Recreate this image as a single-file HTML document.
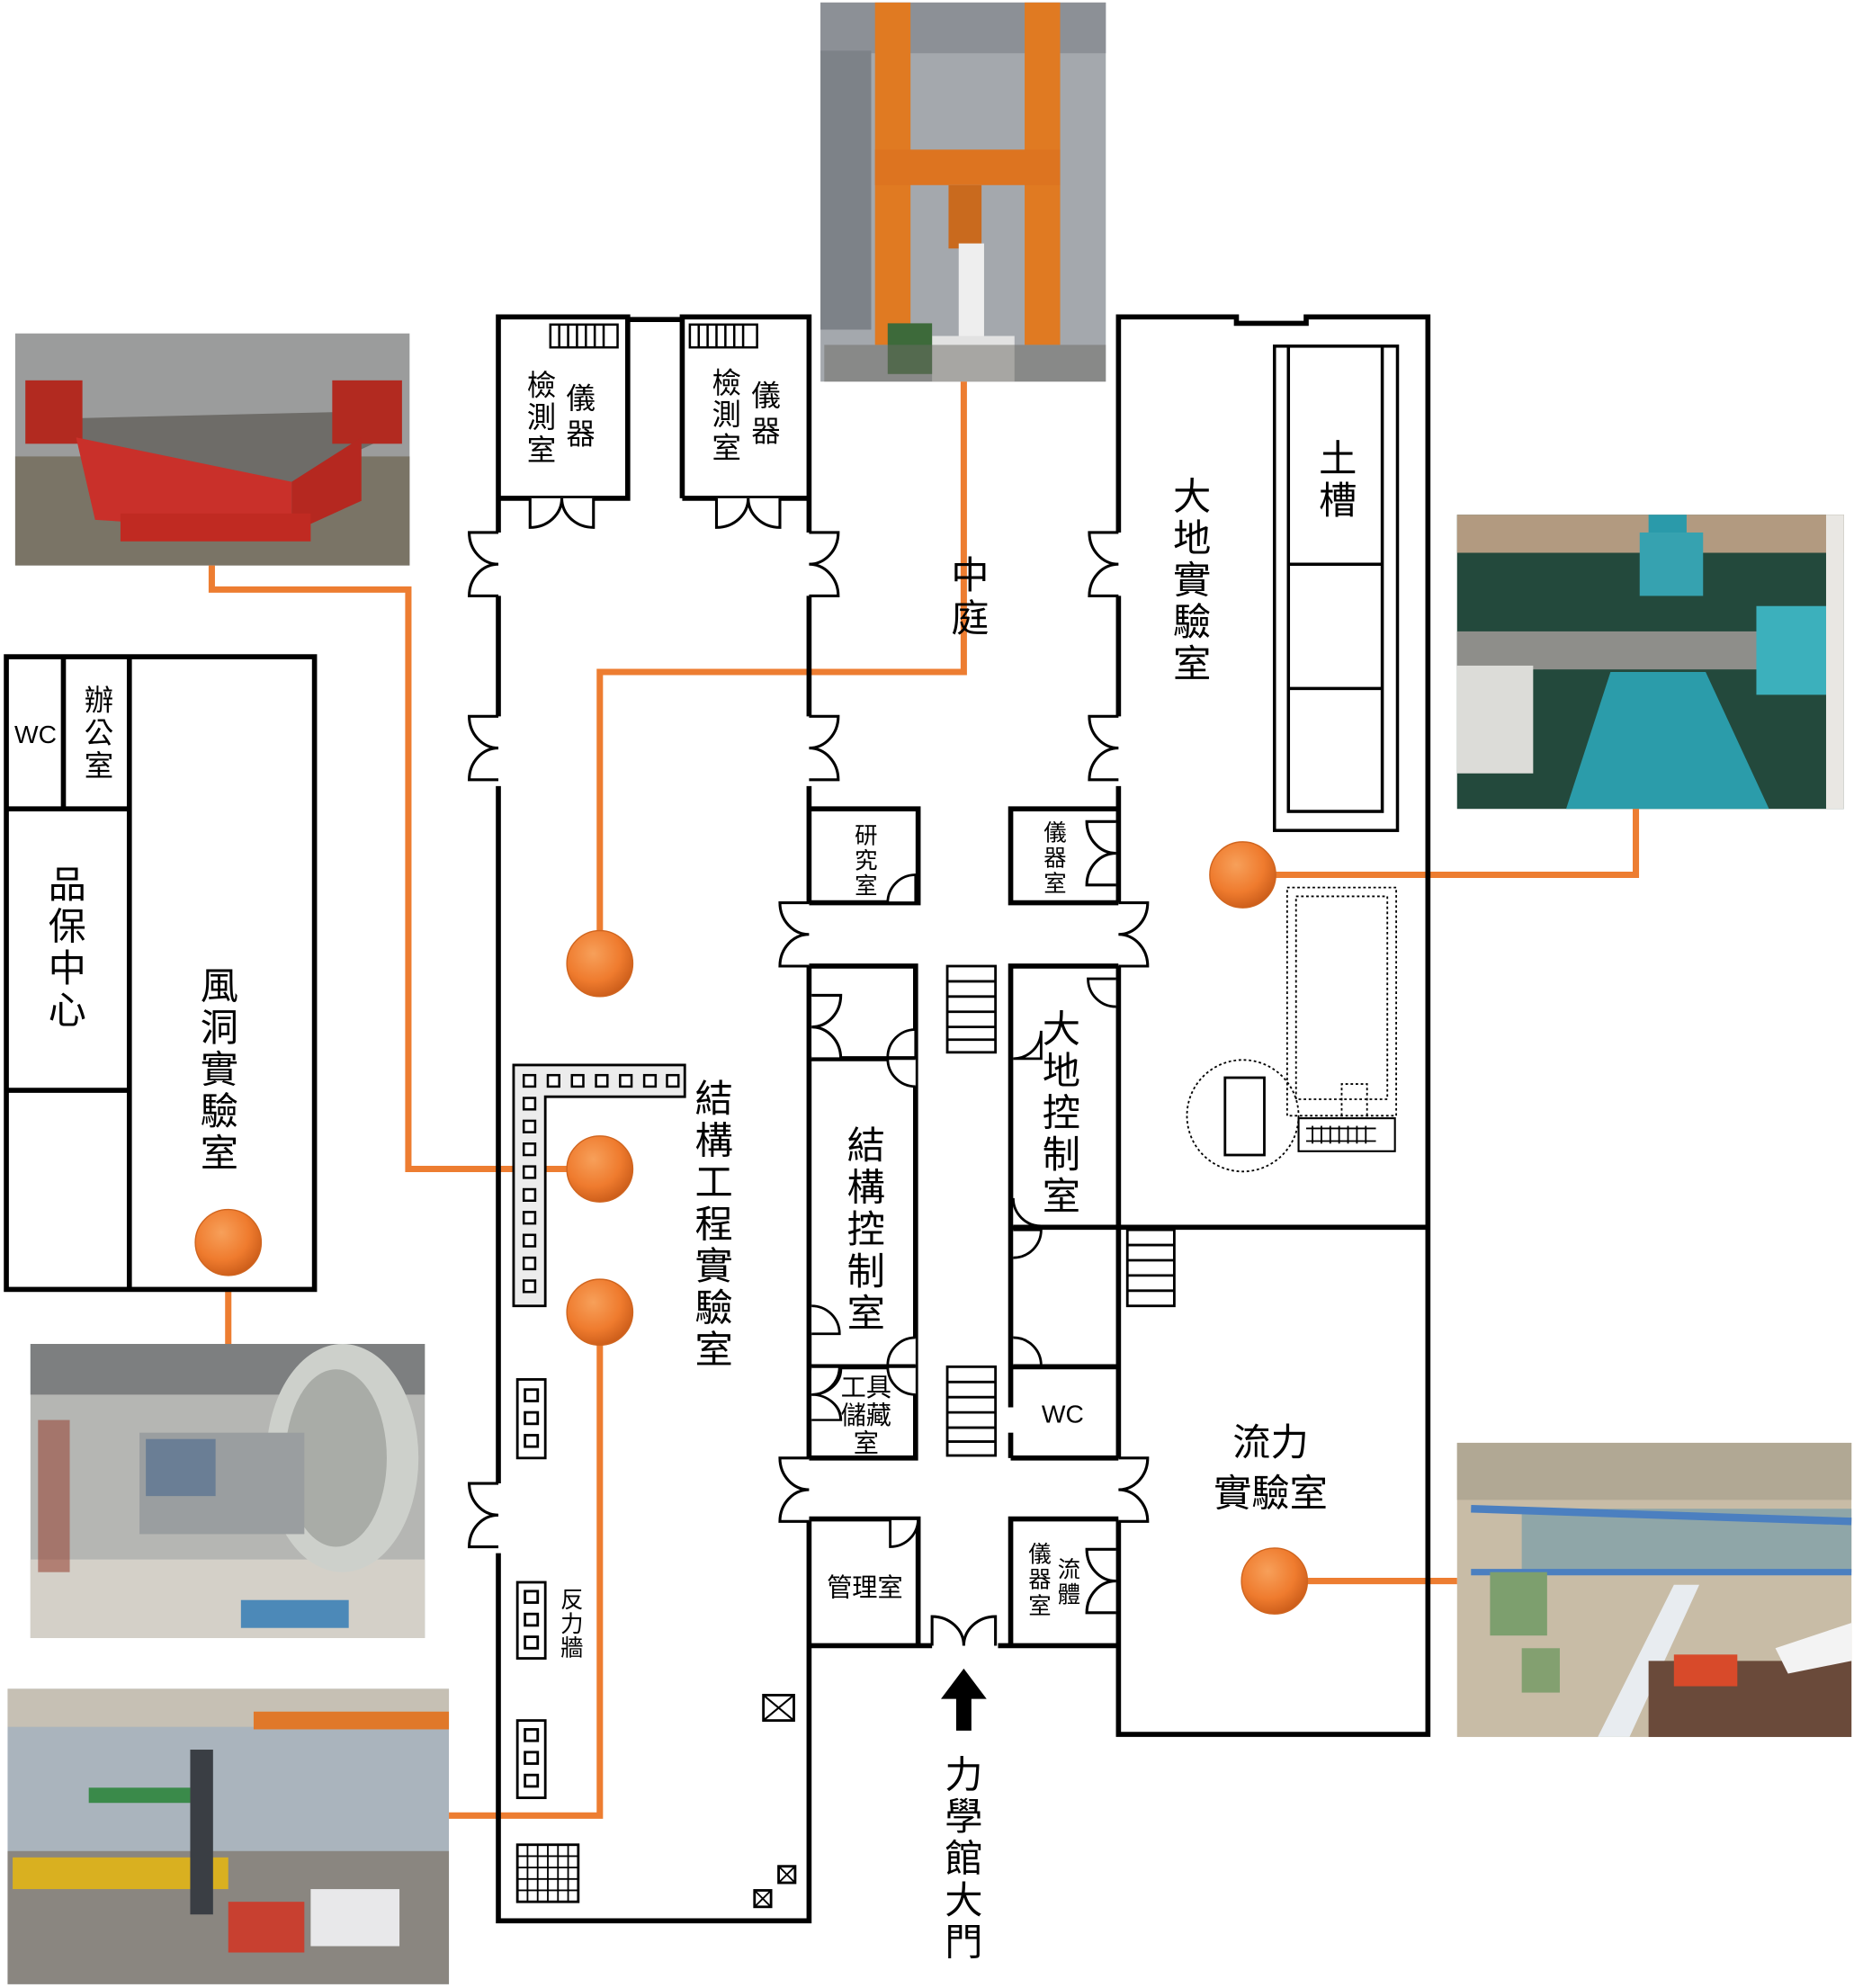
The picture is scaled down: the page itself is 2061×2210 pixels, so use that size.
<!DOCTYPE html>
<html><head><meta charset="utf-8"><style>
html,body{margin:0;padding:0;background:#fff;}
svg{display:block;}
text{font-family:"Liberation Sans","Noto Sans CJK TC",sans-serif;fill:#000;text-anchor:middle;}
</style></head><body>
<svg width="2061" height="2210" viewBox="0 0 1462 1568" preserveAspectRatio="none" xmlns="http://www.w3.org/2000/svg">
<defs>
<radialGradient id="dot" cx="40%" cy="35%" r="70%"><stop offset="0" stop-color="#f7a05a"/><stop offset="0.6" stop-color="#ef7b2e"/><stop offset="1" stop-color="#c85a18"/></radialGradient>
<g id="dd"><path d="M0,0 h-23 a23,25 0 0 0 23,25 M0,50 h-23 a23,25 0 0 1 23,-25" fill="#fff" stroke="#000" stroke-width="2.2"/></g>
</defs>

<!-- PHOTOS -->
<g>
<rect x="647" y="2" width="225" height="299" fill="#a4a8ad"/>
<rect x="647" y="2" width="225" height="40" fill="#8c9096"/>
<rect x="647" y="40" width="40" height="220" fill="#7d8288"/>
<rect x="690" y="2" width="28" height="270" fill="#e07a22"/>
<rect x="808" y="2" width="28" height="270" fill="#e07a22"/>
<rect x="690" y="118" width="146" height="28" fill="#dd7420"/>
<rect x="748" y="146" width="26" height="50" fill="#c96a1e"/>
<rect x="756" y="192" width="20" height="80" fill="#eeeeee"/>
<rect x="735" y="265" width="65" height="36" fill="#e2e2e2"/>
<rect x="700" y="255" width="35" height="40" fill="#3d6a3a"/>
<rect x="650" y="272" width="222" height="29" fill="#6b6a64" opacity="0.5"/>
</g>
<g>
<rect x="12" y="263" width="311" height="183" fill="#9b9c9c"/>
<rect x="12" y="360" width="311" height="86" fill="#7a7466"/>
<polygon points="55,330 265,325 305,345 230,380 75,378" fill="#6e6c68"/>
<rect x="20" y="300" width="45" height="50" fill="#b22a20"/>
<rect x="262" y="300" width="55" height="50" fill="#b22a20"/>
<polygon points="60,345 230,380 230,420 75,410" fill="#c9302a"/>
<polygon points="230,380 285,345 285,395 230,420" fill="#b52820"/>
<rect x="95" y="405" width="150" height="22" fill="#c02a22"/>
</g>
<g>
<rect x="1149" y="406" width="305" height="232" fill="#23493c"/>
<rect x="1149" y="406" width="305" height="30" fill="#b29a80"/>
<rect x="1300" y="406" width="30" height="50" fill="#2a9aaa"/>
<rect x="1293" y="420" width="50" height="50" fill="#36a2b0"/>
<rect x="1149" y="498" width="240" height="30" fill="#8e8e8a"/>
<rect x="1385" y="478" width="55" height="70" fill="#3cb0bc"/>
<polygon points="1270,530 1345,530 1395,638 1235,638" fill="#2b9caa"/>
<rect x="1149" y="525" width="60" height="85" fill="#dcdcd8"/>
<rect x="1440" y="406" width="14" height="232" fill="#e9e7e3"/>
</g>
<g>
<rect x="24" y="1060" width="311" height="232" fill="#b5b6b3"/>
<rect x="24" y="1060" width="311" height="40" fill="#7d7f80"/>
<rect x="24" y="1230" width="311" height="62" fill="#d4d0c8"/>
<ellipse cx="270" cy="1150" rx="60" ry="90" fill="#cdd0cb"/>
<ellipse cx="265" cy="1150" rx="40" ry="70" fill="#a9aca7"/>
<rect x="110" y="1130" width="130" height="80" fill="#9a9ea0"/>
<rect x="115" y="1135" width="55" height="45" fill="#6a7e95"/>
<rect x="190" y="1262" width="85" height="22" fill="#4c89b8"/>
<rect x="30" y="1120" width="25" height="120" fill="#9a4a3a" opacity="0.6"/>
</g>
<g>
<rect x="6" y="1332" width="348" height="233" fill="#aab4bd"/>
<rect x="6" y="1332" width="348" height="30" fill="#c6c0b4"/>
<rect x="200" y="1350" width="154" height="14" fill="#e0782a"/>
<rect x="6" y="1460" width="348" height="105" fill="#8a8680"/>
<rect x="10" y="1465" width="170" height="25" fill="#d9b020"/>
<rect x="70" y="1410" width="80" height="12" fill="#3a8a4a"/>
<rect x="150" y="1380" width="18" height="130" fill="#3a3e44"/>
<rect x="180" y="1500" width="60" height="40" fill="#c84030"/>
<rect x="245" y="1490" width="70" height="45" fill="#e8e8ea"/>
</g>
<g>
<rect x="1149" y="1138" width="311" height="232" fill="#c8bca6"/>
<rect x="1149" y="1138" width="311" height="45" fill="#b1a894"/>
<rect x="1200" y="1190" width="260" height="50" fill="#8fa6a8"/>
<line x1="1160" y1="1190" x2="1460" y2="1200" stroke="#4b7fc0" stroke-width="6"/>
<line x1="1160" y1="1240" x2="1460" y2="1240" stroke="#4b7fc0" stroke-width="5"/>
<rect x="1175" y="1240" width="45" height="50" fill="#7d9f6e"/>
<rect x="1200" y="1300" width="30" height="35" fill="#83a070"/>
<polygon points="1260,1370 1320,1250 1340,1250 1285,1370" fill="#e8ecf0"/>
<rect x="1300" y="1310" width="160" height="60" fill="#6a4a3a"/>
<rect x="1320" y="1305" width="50" height="25" fill="#d84a2a"/>
<polygon points="1400,1300 1460,1280 1460,1310 1410,1320" fill="#f3f3f3"/>
</g>

<!-- ORANGE CONNECTORS -->
<g fill="none" stroke="#ed7d31" stroke-width="5">
<polyline points="167,446 167,465 322,465 322,922 473,922"/>
<polyline points="473,760 473,530 760,530 760,301"/>
<polyline points="980,690 1290,690 1290,638"/>
<polyline points="180,980 180,1060"/>
<polyline points="473,1035 473,1432 354,1432"/>
<polyline points="1005,1247 1149,1247"/>
</g>

<!-- WALLS -->
<g fill="none" stroke="#000" stroke-width="4">
<rect x="5" y="518" width="243" height="499" fill="#fff"/>
<line x1="102" y1="518" x2="102" y2="1017"/>
<line x1="50" y1="518" x2="50" y2="638"/>
<line x1="5" y1="638" x2="102" y2="638"/>
<line x1="5" y1="860" x2="102" y2="860"/>
<polyline points="393,420 393,250 495,250 495,393 395,393"/>
<polyline points="538,393 538,250 638,250 638,420"/>
<line x1="538" y1="393" x2="638" y2="393"/>
<line x1="495" y1="252" x2="538" y2="252"/>
<line x1="393" y1="470" x2="393" y2="565"/>
<line x1="393" y1="620" x2="393" y2="1170"/>
<polyline points="393,1225 393,1515 638,1515 638,1298"/>
<line x1="638" y1="470" x2="638" y2="565"/>
<line x1="638" y1="620" x2="638" y2="712"/>
<line x1="638" y1="762" x2="638" y2="1150"/>
<line x1="638" y1="1198" x2="638" y2="1298"/>
<polyline points="638,638 724,638 724,712 638,712"/>
<polyline points="638,762 722,762 722,1150 638,1150"/>
<line x1="638" y1="835" x2="722" y2="835"/>
<line x1="638" y1="1078" x2="722" y2="1078"/>
<polyline points="638,1198 724,1198 724,1298"/>
<polyline points="638,1298 735,1298"/>
<polyline points="787,1298 882,1298"/>
<polyline points="882,638 797,638 797,712 882,712"/>
<polyline points="882,762 797,762 797,1110"/>
<line x1="797" y1="1130" x2="797" y2="1150"/>
<line x1="797" y1="968" x2="882" y2="968"/>
<line x1="797" y1="1078" x2="882" y2="1078"/>
<line x1="797" y1="1150" x2="882" y2="1150"/>
<polyline points="882,1198 797,1198 797,1298"/>
<polyline points="882,420 882,250 975,250 975,255 1030,255 1030,250 1126,250 1126,1368 882,1368 882,1198"/>
<line x1="882" y1="470" x2="882" y2="565"/>
<line x1="882" y1="620" x2="882" y2="712"/>
<line x1="882" y1="762" x2="882" y2="1150"/>
<line x1="882" y1="968" x2="1126" y2="968"/>
</g>
<g fill="none" stroke="#000" stroke-width="2.5">
<rect x="1005" y="273" width="97" height="382"/>
<rect x="1016" y="273" width="74" height="367"/>
<line x1="1016" y1="445" x2="1090" y2="445"/>
<line x1="1016" y1="543" x2="1090" y2="543"/>
<rect x="966" y="850" width="31" height="61" stroke-width="2"/>
</g>
<g fill="none" stroke="#000" stroke-width="1.3" stroke-dasharray="2,2">
<rect x="1015" y="700" width="86" height="180"/>
<rect x="1022" y="707" width="72" height="160"/>
<circle cx="980" cy="880" r="44"/>
<polyline points="1058,880 1058,855 1078,855 1078,880"/>
</g>
<rect x="1024" y="882" width="76" height="26" fill="none" stroke="#000" stroke-width="1.5"/>
<g stroke="#000" stroke-width="1.3"><line x1="1030" y1="890" x2="1085" y2="890"/><line x1="1030" y1="900" x2="1085" y2="900"/>
<line x1="1035" y1="888" x2="1035" y2="902"/><line x1="1042" y1="888" x2="1042" y2="902"/><line x1="1049" y1="888" x2="1049" y2="902"/><line x1="1056" y1="888" x2="1056" y2="902"/><line x1="1063" y1="888" x2="1063" y2="902"/><line x1="1070" y1="888" x2="1070" y2="902"/><line x1="1077" y1="888" x2="1077" y2="902"/></g>

<g fill="none" stroke="#000" stroke-width="1.8">
<rect x="434" y="256" width="53" height="18"/><rect x="544" y="256" width="53" height="18"/>
<path d="M441,256v18M448,256v18M455,256v18M462,256v18M469,256v18M476,256v18M551,256v18M558,256v18M565,256v18M572,256v18M579,256v18M586,256v18"/>
</g>

<g fill="#fff" stroke="#000" stroke-width="2">
<rect x="747" y="762" width="38" height="68"/>
<path d="M747,774h38M747,786h38M747,798h38M747,810h38M747,820h38"/>
<rect x="747" y="1078" width="38" height="70"/>
<path d="M747,1090h38M747,1102h38M747,1114h38M747,1126h38M747,1137h38"/>
<rect x="889" y="970" width="37" height="60"/>
<path d="M889,982h37M889,994h37M889,1006h37M889,1018h37"/>
</g>

<g stroke="#000" stroke-width="2">
<path d="M405,840 H540 V865 H430 V1030 H405 Z" fill="#ececec"/>
<g fill="#fff" stroke-width="1.8">
<rect x="413" y="848" width="9" height="9"/><rect x="432" y="848" width="9" height="9"/><rect x="451" y="848" width="9" height="9"/><rect x="470" y="848" width="9" height="9"/><rect x="489" y="848" width="9" height="9"/><rect x="508" y="848" width="9" height="9"/><rect x="526" y="848" width="9" height="9"/>
<rect x="413" y="866" width="9" height="9"/><rect x="413" y="884" width="9" height="9"/><rect x="413" y="902" width="9" height="9"/><rect x="413" y="920" width="9" height="9"/><rect x="413" y="938" width="9" height="9"/><rect x="413" y="956" width="9" height="9"/><rect x="413" y="974" width="9" height="9"/><rect x="413" y="992" width="9" height="9"/><rect x="413" y="1010" width="9" height="9"/>
</g>
<g fill="#fff">
<rect x="408" y="1088" width="22" height="62"/><rect x="414" y="1096" width="10" height="9"/><rect x="414" y="1114" width="10" height="9"/><rect x="414" y="1132" width="10" height="9"/>
<rect x="408" y="1248" width="22" height="60"/><rect x="414" y="1255" width="10" height="9"/><rect x="414" y="1273" width="10" height="9"/><rect x="414" y="1291" width="10" height="9"/>
<rect x="408" y="1357" width="22" height="61"/><rect x="414" y="1364" width="10" height="9"/><rect x="414" y="1382" width="10" height="9"/><rect x="414" y="1400" width="10" height="9"/>
<rect x="408" y="1455" width="48" height="45"/>
</g>
<path d="M408,1464h48M408,1473h48M408,1482h48M408,1491h48M416,1455v45M424,1455v45M432,1455v45M440,1455v45M448,1455v45" stroke-width="1.3" fill="none"/>
<rect x="602" y="1337" width="24" height="20" fill="#fff"/><path d="M602,1337L626,1357M626,1337L602,1357" fill="none" stroke-width="1.5"/>
<rect x="614" y="1472" width="13" height="13" fill="#fff"/><path d="M614,1472l13,13M627,1472l-13,13" fill="none" stroke-width="1.3"/>
<rect x="595" y="1491" width="13" height="13" fill="#fff"/><path d="M595,1491l13,13M608,1491l-13,13" fill="none" stroke-width="1.3"/>
</g>

<!-- DOORS -->
<use href="#dd" transform="translate(393,420)"/>
<use href="#dd" transform="translate(393,565)"/>
<use href="#dd" transform="translate(393,1170)"/>
<use href="#dd" transform="translate(638,420) scale(-1,1)"/>
<use href="#dd" transform="translate(638,565) scale(-1,1)"/>
<use href="#dd" transform="translate(638,712)"/>
<use href="#dd" transform="translate(638,1150)"/>
<use href="#dd" transform="translate(882,420)"/>
<use href="#dd" transform="translate(882,565)"/>
<use href="#dd" transform="translate(882,712) scale(-1,1)"/>
<use href="#dd" transform="translate(882,1150) scale(-1,1)"/>
<use href="#dd" transform="translate(418,393) rotate(-90)"/>
<use href="#dd" transform="translate(565,393) rotate(-90)"/>
<use href="#dd" transform="translate(735,1298) rotate(90) scale(1,-1)"/>
<use href="#dd" transform="translate(880,648)"/>
<use href="#dd" transform="translate(880,1222)"/>
<use href="#dd" transform="translate(640,785) scale(-1,1)"/>
<use href="#dd" transform="translate(640,1080) scale(-1,1) scale(1,0.8)"/>
<g fill="#fff" stroke="#000" stroke-width="2">
<path d="M722,690 a22,22 0 0 0 -22,22 h22z"/>
<path d="M722,812 a22,22 0 0 0 -22,22 h22z"/>
<path d="M722,835 h-22 a22,22 0 0 0 22,22"/>
<path d="M640,1030 a22,22 0 0 1 22,22 h-22"/>
<path d="M640,1078 h22 a22,22 0 0 1 -22,22"/>
<path d="M722,1055 a22,22 0 0 0 -22,22 h22"/>
<path d="M722,1078 h-22 a22,22 0 0 0 22,22"/>
<path d="M724,1198 h-22 v22 a22,22 0 0 0 22,-22"/>
<path d="M880,772 h-22 a22,22 0 0 0 22,22"/>
<path d="M799,835 a22,22 0 0 0 22,-22 v22 z"/>
<path d="M799,945 a22,22 0 0 0 22,22 h-22"/>
<path d="M799,970 h22 a22,22 0 0 1 -22,22"/>
<path d="M799,1055 a22,22 0 0 1 22,22 h-22"/>
</g>

<g fill="url(#dot)" stroke="#d0651f" stroke-width="1">
<circle cx="473" cy="760" r="26"/>
<circle cx="473" cy="922" r="26"/>
<circle cx="473" cy="1035" r="26"/>
<circle cx="180" cy="980" r="26"/>
<circle cx="980" cy="690" r="26"/>
<circle cx="1005" cy="1247" r="26"/>
</g>

<path d="M760,1316 L778,1340 L766,1340 L766,1365 L754,1365 L754,1340 L742,1340 Z" fill="#000"/>

<!-- TEXT -->
<g font-size="23">
<text x="458" y="322">儀</text><text x="458" y="350">器</text>
<text x="427" y="312">檢</text><text x="427" y="337">測</text><text x="427" y="363">室</text>
<text x="604" y="320">儀</text><text x="604" y="348">器</text>
<text x="573" y="310">檢</text><text x="573" y="335">測</text><text x="573" y="361">室</text>
</g>
<g font-size="30">
<text x="765" y="464">中</text><text x="765" y="498">庭</text>
<text x="940" y="402">大</text><text x="940" y="435">地</text><text x="940" y="468">實</text><text x="940" y="501">驗</text><text x="940" y="534">室</text>
<text x="1055" y="372">土</text><text x="1055" y="405">槽</text>
<text x="53" y="708">品</text><text x="53" y="741">保</text><text x="53" y="774">中</text><text x="53" y="807">心</text>
<text x="173" y="788">風</text><text x="173" y="821">洞</text><text x="173" y="854">實</text><text x="173" y="887">驗</text><text x="173" y="920">室</text>
<text x="563" y="877">結</text><text x="563" y="910">構</text><text x="563" y="943">工</text><text x="563" y="976">程</text><text x="563" y="1009">實</text><text x="563" y="1042">驗</text><text x="563" y="1075">室</text>
<text x="683" y="914">結</text><text x="683" y="947">構</text><text x="683" y="980">控</text><text x="683" y="1013">制</text><text x="683" y="1046">室</text>
<text x="837" y="822">大</text><text x="837" y="855">地</text><text x="837" y="888">控</text><text x="837" y="921">制</text><text x="837" y="954">室</text>
<text x="1002" y="1148">流力</text><text x="1002" y="1188">實驗室</text>
<text x="760" y="1410">力</text><text x="760" y="1443">學</text><text x="760" y="1476">館</text><text x="760" y="1509">大</text><text x="760" y="1542">門</text>
</g>
<g font-size="23">
<text x="78" y="560">辦</text><text x="78" y="586">公</text><text x="78" y="612">室</text>
</g>
<text x="28" y="586" font-size="20">WC</text>
<text x="838" y="1122" font-size="20">WC</text>
<g font-size="18">
<text x="683" y="665">研</text><text x="683" y="685">究</text><text x="683" y="705">室</text>
<text x="832" y="663">儀</text><text x="832" y="683">器</text><text x="832" y="703">室</text>
<text x="843" y="1244">流</text><text x="843" y="1264">體</text>
<text x="820" y="1232">儀</text><text x="820" y="1252">器</text><text x="820" y="1273">室</text>
<text x="451" y="1268">反</text><text x="451" y="1287">力</text><text x="451" y="1306">牆</text>
</g>
<g font-size="20">
<text x="683" y="1101">工具</text><text x="683" y="1123">儲藏</text><text x="683" y="1145">室</text>
<text x="682" y="1259">管理室</text>
</g>
</svg>
</body></html>
